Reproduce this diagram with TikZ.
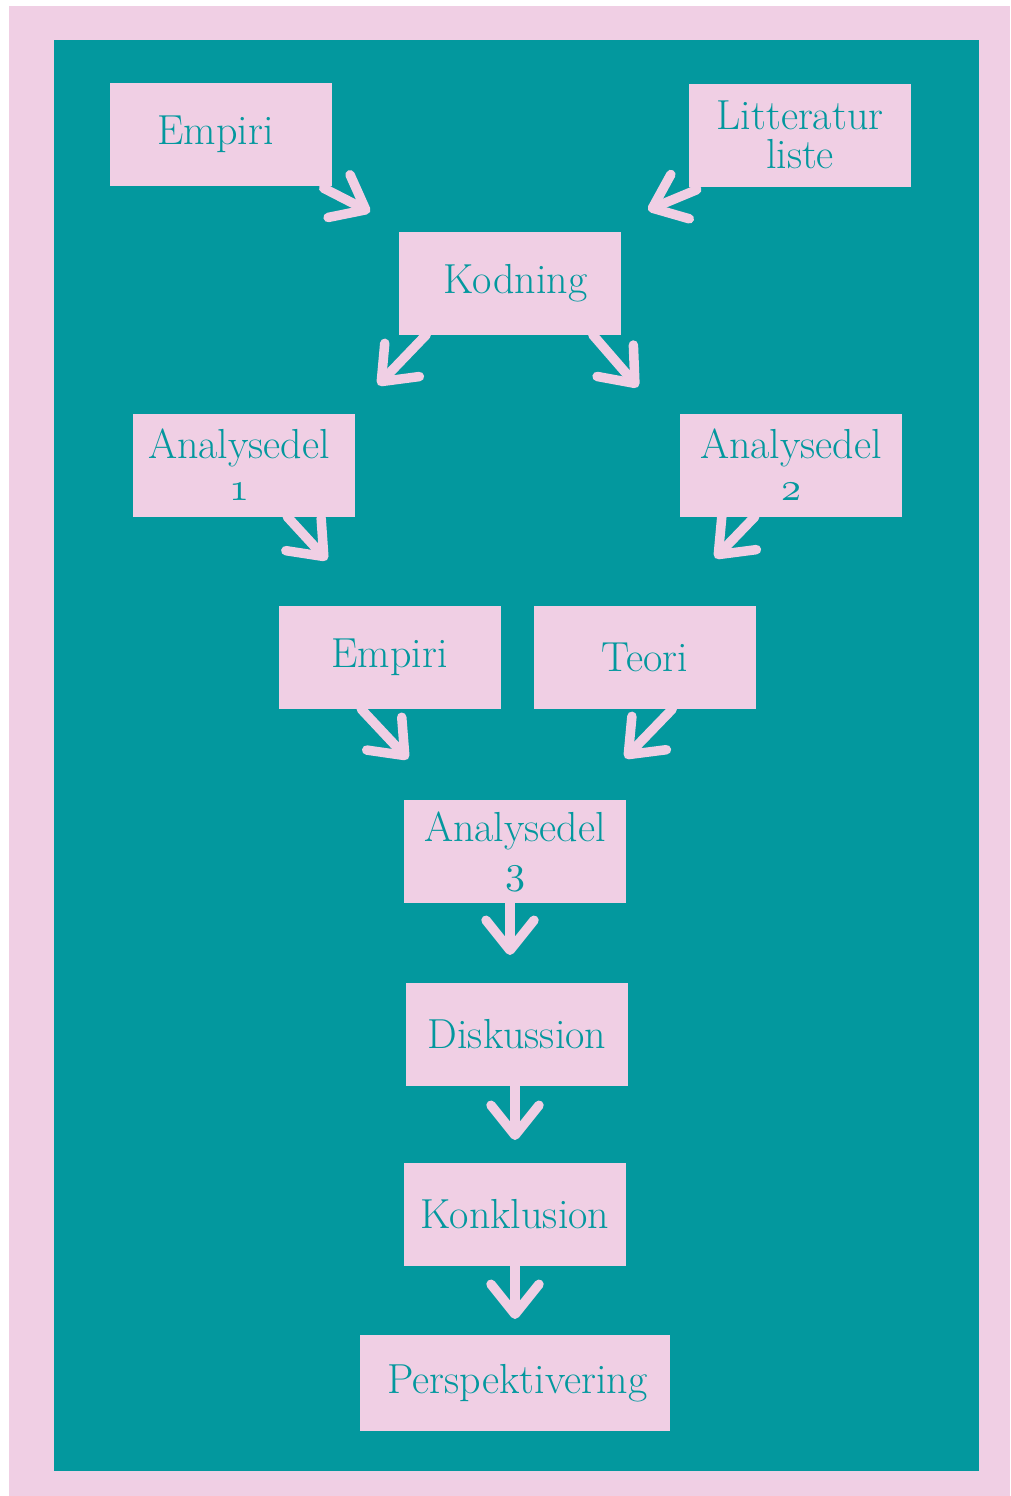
\documentclass[tikz,border=0pt]{standalone}
\usetikzlibrary{arrows.meta}
\definecolor{tealc}{HTML}{03989E}
\definecolor{pinkc}{HTML}{F0CFE4}
\font\osnum=cmmi10 at 40pt
\begin{document}
\begin{tikzpicture}[x=1pt,y=-1pt,
  stepbox/.style={fill=pinkc, inner sep=0pt, minimum width=222pt, minimum height=103pt,
    text=tealc, align=center, font=\fontsize{42}{42}\selectfont},
  flow/.style={draw=pinkc, line width=9.5pt, line cap=round,
    -{Straight Barb[length=30pt,width=48pt,line cap=round,line join=round]}}]
\useasboundingbox (0,0) rectangle (1010,1496);
\fill[white] (0,0) rectangle (1010,1496);
\fill[pinkc] (9,6) rectangle (1010,1496);
\fill[tealc] (54,40) rectangle (979,1471);
% boxes
\node[stepbox] (e1) at (220.5,134.5) {Empiri\kern10pt};
\node[stepbox] (lit) at (800,135) {Litteratur\\[-3pt]liste};
\node[stepbox] (kod) at (509.5,283) {\kern12ptKodning};
\node[stepbox] (a1) at (244,465) {Analysedel\kern10pt\\{\osnum 1}\kern10pt};
\node[stepbox] (a2) at (791,465) {Analysedel\\{\osnum 2}};
\node[stepbox] (e2) at (389.5,657.5) {Empiri};
\node[stepbox] (teo) at (645,657.5) {Teori};
\node[stepbox] (a3) at (515,851.5) {Analysedel\\{\osnum 3}};
\node[stepbox] (dis) at (517,1034.5) {Diskussion};
\node[stepbox] (kon) at (515,1214.5) {Konklusion};
\node[stepbox, minimum width=310pt, minimum height=96pt] (per) at (515,1383) {\kern5ptPerspektivering};
% free ends of connectors
\coordinate (t1) at (370,212);
\coordinate (t2) at (648,210);
\coordinate (t3) at (378,385);
\coordinate (t4) at (638,387);
\coordinate (t5) at (327,560);
\coordinate (t6) at (715,558);
\coordinate (t7) at (408,759);
\coordinate (t8) at (625,758);
\coordinate (t9) at (510,955);
\coordinate (t10) at (515,1140);
\coordinate (t11) at (515,1319);
% connectors
\draw[flow] ([xshift=-8pt,yshift=-2pt]e1.south east) -- (t1);
\draw[flow] ([xshift=8pt,yshift=-3pt]lit.south west) -- (t2);
\draw[flow] ([xshift=28pt]kod.south west) -- (t3);
\draw[flow] ([xshift=-28pt]kod.south east) -- (t4);
\draw[flow] ([xshift=-68pt]a1.south east) -- (t5);
\draw[flow] ([xshift=75pt]a2.south west) -- (t6);
\draw[flow] ([xshift=83pt]e2.south west) -- (t7);
\draw[flow] ([xshift=-84pt]teo.south east) -- (t8);
\draw[flow] ([xshift=-5pt]a3.south) -- (t9);
\draw[flow] ([xshift=-2pt]dis.south) -- (t10);
\draw[flow] (kon.south) -- (t11);
\end{tikzpicture}
\end{document}
